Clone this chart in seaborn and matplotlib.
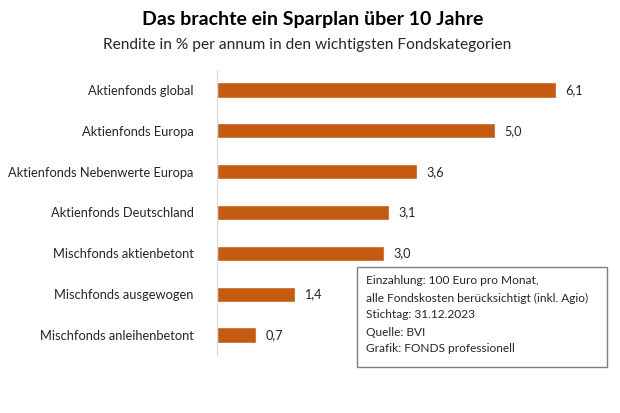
import matplotlib
matplotlib.use("Agg")
import matplotlib.pyplot as plt
import seaborn as sns
import pandas as pd
from matplotlib.patches import Rectangle

categories = ["Aktienfonds global", "Aktienfonds Europa", "Aktienfonds Nebenwerte Europa",
              "Aktienfonds Deutschland", "Mischfonds aktienbetont", "Mischfonds ausgewogen",
              "Mischfonds anleihenbetont"]
values = [6.1, 5.0, 3.6, 3.1, 3.0, 1.4, 0.7]
value_labels = ["6,1", "5,0", "3,6", "3,1", "3,0", "1,4", "0,7"]

title = "Das brachte ein Sparplan über 10 Jahre"
subtitle = "Rendite in % per annum in den wichtigsten Fondskategorien"
note_lines = ["Einzahlung: 100 Euro pro Monat,",
              "alle Fondskosten berücksichtigt (inkl. Agio)",
              "Stichtag: 31.12.2023",
              "Quelle: BVI",
              "Grafik: FONDS professionell"]

sns.set_theme(style="white")
plt.rcParams['font.family'] = ['Lato', 'DejaVu Sans']

df = pd.DataFrame({"cat": categories, "val": values})

fig = plt.figure(figsize=(6.2, 4.13), dpi=100)
W, H = 620, 413
ax = fig.add_axes([217 / W, 1 - 355.4 / H, (600 - 217) / W, (355.4 - 69.6) / H])
sns.barplot(data=df, x="val", y="cat", color="#C55A11", width=0.37, ax=ax, saturation=1)
ax.set_xlim(0, 383 / 55.57)
ax.set_ylim(6.5, -0.5)
ax.set_xlabel("")
ax.set_ylabel("")
ax.set_xticks([])
ax.tick_params(axis="y", length=0, pad=17, labelsize=9.3, labelcolor="#262626")
for s in ["top", "right", "bottom"]:
    ax.spines[s].set_visible(False)
ax.spines["left"].set_color("#d9d9d9")
ax.spines["left"].set_linewidth(0.8)

for i, (v, lab) in enumerate(zip(values, value_labels)):
    ax.text(v + 0.17, i, lab, va="center", ha="left", fontsize=9.2, color="#262626")

fig.text(313 / W, 1 - 20 / H, title, ha="center", va="center", fontsize=14,
         fontweight="bold", color="#000000")
fig.text(307 / W, 1 - 45 / H, subtitle, ha="center", va="center", fontsize=11.2,
         color="#262626")

box = Rectangle((357 / W, 1 - 367 / H), 250 / W, 100 / H, transform=fig.transFigure,
                facecolor="white", edgecolor="#7f7f7f", linewidth=1.0, zorder=5)
fig.add_artist(box)
for k, line in enumerate(note_lines):
    fig.text(366 / W, 1 - (281 + 17 * k) / H, line, ha="left", va="center",
             fontsize=8.6, color="#262626", zorder=6)

fig.savefig("out.png", dpi=100)
